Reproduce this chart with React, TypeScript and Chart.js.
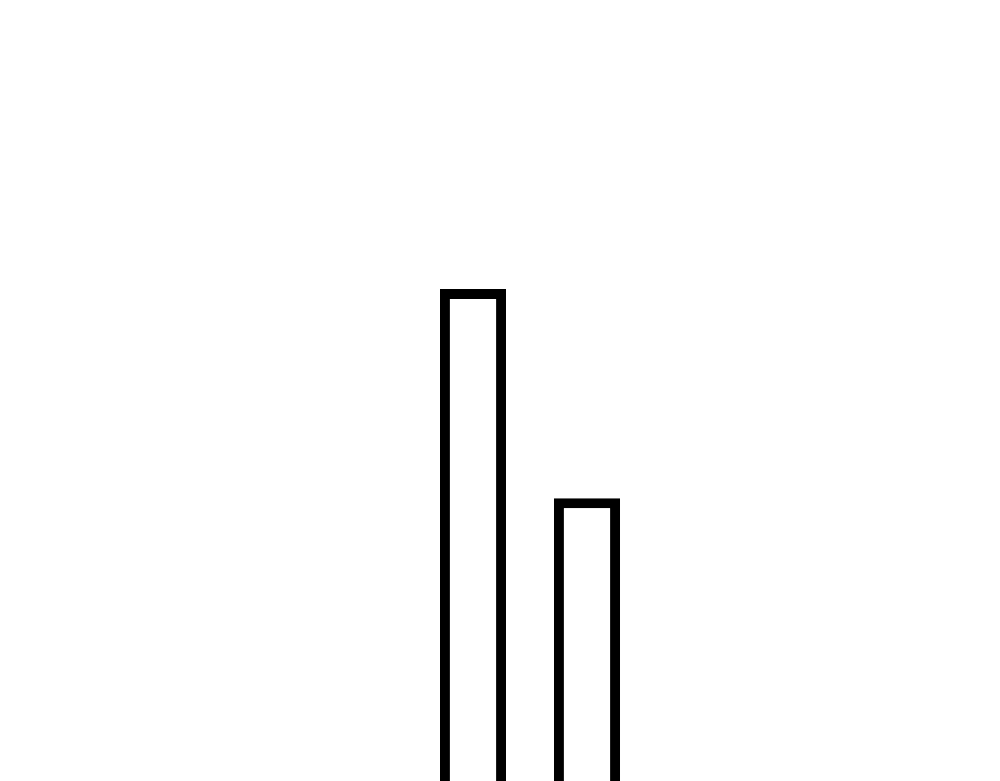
import { useEffect, useRef } from "react";
import { Chart, registerables } from "chart.js";

Chart.register(...registerables);

// two bars, outlines only, running off the bottom of the picture
const categories = ["A", "B"];
const values = [63, 36.2];
const yMax = 100;

export default function App() {
  const chartRef = useRef<Chart | null>(null);
  const canvasRef = useRef<HTMLCanvasElement | null>(null);

  useEffect(() => {
    const data = {
      labels: categories,
      datasets: [
        {
          data: values,
          backgroundColor: "#ffffff",
          borderColor: "#000000",
          borderWidth: 10,
          barPercentage: 1,
          categoryPercentage: 0.58,
        },
      ],
    };

    const options = {
      responsive: true,
      maintainAspectRatio: false,
      animation: false as const,
      layout: {
        padding: { left: 416, right: 356, top: 0, bottom: 0 },
      },
      plugins: {
        legend: { display: false },
        tooltip: { enabled: false },
      },
      scales: {
        x: { display: false },
        y: { display: false, min: 0, max: yMax },
      },
    };

    if (chartRef.current) {
      chartRef.current.destroy();
    }

    const ctx = canvasRef.current?.getContext("2d");
    if (ctx) {
      chartRef.current = new Chart(ctx, {
        type: "bar",
        data,
        options,
      });
    }

    return () => {
      if (chartRef.current) {
        chartRef.current.destroy();
        chartRef.current = null;
      }
    };
  }, []);

  return (
    <div
      style={{
        position: "fixed",
        top: 0,
        left: 0,
        width: 1000,
        height: 781,
        background: "#ffffff",
      }}
    >
      <canvas ref={canvasRef} />
    </div>
  );
}
